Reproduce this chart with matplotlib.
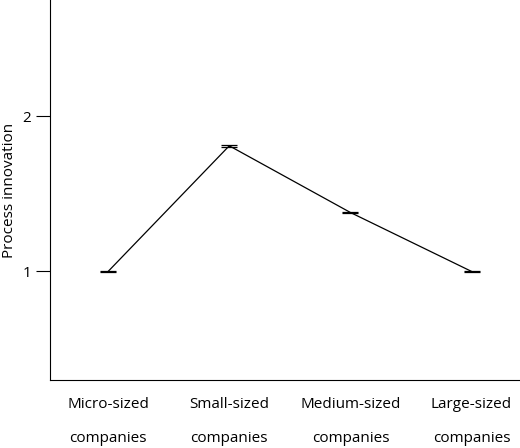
import matplotlib
matplotlib.use("Agg")
import matplotlib.pyplot as plt

categories = ["Micro-sized\n\ncompanies", "Small-sized\n\ncompanies", "Medium-sized\n\ncompanies", "Large-sized\n\ncompanies"]
values = [1.0, 1.81, 1.38, 1.0]
errors = [0.005, 0.005, 0.005, 0.005]
yticks = [1, 2]

plt.rcParams['font.family'] = ['Open Sans', 'DejaVu Sans']
fig = plt.figure(figsize=(5.2, 4.48), dpi=100)
ax = fig.add_axes([50/520, 1-380/448, 470/520, 380/448])
x = list(range(len(categories)))
ax.errorbar(x, values, yerr=errors, color='black', lw=0.9, capsize=6, capthick=0.9, elinewidth=0.9)
ax.set_xlim(-0.48, 3.4)
ax.set_ylim(0.3, 2.75)
ax.set_yticks(yticks)
ax.set_xticks(x)
ax.set_xticklabels(categories, fontsize=11, linespacing=1.2)
ax.tick_params(axis='x', length=0, pad=12)
ax.tick_params(axis='y', direction='out', length=10, labelsize=11)
ax.set_ylabel("Process innovation", fontsize=11)
for s in ['top', 'right']:
    ax.spines[s].set_visible(False)
fig.savefig("out.png", dpi=100)
